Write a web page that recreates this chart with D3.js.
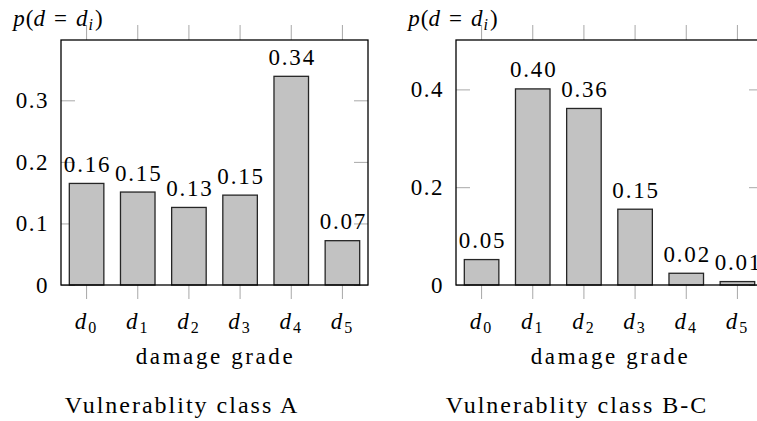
<!DOCTYPE html>
<html>
<head>
<meta charset="utf-8">
<script src="https://cdn.jsdelivr.net/npm/d3@7"></script>
<style>
  html, body { margin: 0; padding: 0; background: #fff; }
</style>
</head>
<body>
<svg id="chart" width="757" height="421"></svg>
<script>
// ---------- data ----------
const categories = ["0", "1", "2", "3", "4", "5"];          // subscripts of d_i
const valuesA  = [0.165, 0.151, 0.126, 0.146, 0.339, 0.072];
const labelsA  = ["0.16", "0.15", "0.13", "0.15", "0.34", "0.07"];
const valuesBC = [0.052, 0.401, 0.361, 0.155, 0.024, 0.007];
const labelsBC = ["0.05", "0.40", "0.36", "0.15", "0.02", "0.01"];
const yTicksA  = [0, 0.1, 0.2, 0.3];
const yTicksBC = [0, 0.2, 0.4];
const yMaxA  = 0.398;
const yMaxBC = 0.501;
const xTitle = "damage grade";
const captionA  = "Vulnerablity class A";
const captionBC = "Vulnerablity class B-C";

// ---------- layout ----------
const svg = d3.select("#chart");
const plotTop = 40, plotBottom = 285, frameW = 307;

// every text is appended straight to the svg root
function addText(x, y, size, anchor, ls) {
  const t = svg.append("text")
    .attr("x", x).attr("y", y)
    .attr("font-size", size)
    .style("font-family", "'Liberation Serif'");
  if (anchor !== "start") t.attr("text-anchor", anchor);
  if (ls) t.style("letter-spacing", ls + "px");
  return t;
}

function cleanAxis(a) {
  a.select(".domain").remove();
  a.selectAll("text").remove();
  a.attr("font-family", null).attr("font-size", null);
}

function panel(x0, values, labels, yTicks, yMax, caption) {
  const g = svg.append("g");
  const x1 = x0 + frameW;
  const x = d3.scaleBand().domain(categories).range([x0, x1])
    .paddingInner(0.325).paddingOuter(0.1625);
  const y = d3.scaleLinear().domain([0, yMax]).range([plotBottom, plotTop]);
  const fmt = d => d === 0 ? "0" : d3.format(".1f")(d);

  g.append("g").attr("transform", `translate(0,${plotTop})`)
    .call(d3.axisTop(x).tickSize(15).tickFormat("")).call(cleanAxis);
  g.append("g").attr("transform", `translate(0,${plotBottom})`)
    .call(d3.axisBottom(x).tickSize(14).tickFormat("")).call(cleanAxis);
  g.append("g").attr("transform", `translate(${x0},0)`)
    .call(d3.axisLeft(y).tickValues(yTicks).tickSize(-14).tickFormat("")).call(cleanAxis);
  g.append("g").attr("transform", `translate(${x1},0)`)
    .call(d3.axisRight(y).tickValues(yTicks).tickSize(-14).tickFormat("")).call(cleanAxis);
  g.selectAll(".tick line").attr("stroke", "#a8a8a8").attr("stroke-width", 1);

  // y tick labels
  yTicks.forEach(v => {
    addText(x0 - 12, y(v) + 8, 23, "end", 1.5).text(fmt(v));
  });

  // bars
  g.selectAll("rect.bar").data(values).join("rect")
    .attr("class", "bar")
    .attr("x", (d, i) => x(categories[i]))
    .attr("width", x.bandwidth())
    .attr("y", d => y(d))
    .attr("height", d => plotBottom - y(d))
    .attr("fill", "#c2c2c2")
    .attr("stroke", "#262626")
    .attr("stroke-width", 1.3);

  // frame
  g.append("rect")
    .attr("x", x0).attr("y", plotTop).attr("width", frameW).attr("height", plotBottom - plotTop)
    .attr("fill", "none").attr("stroke", "#000").attr("stroke-width", 1.3);

  // value labels
  values.forEach((v, i) => {
    addText(x(categories[i]) + x.bandwidth() / 2 + 1, y(v) - 11.5, 23, "middle", 1.8)
      .text(labels[i]);
  });

  // x tick labels d_i
  categories.forEach(c => {
    const t = addText(x(c) + x.bandwidth() / 2 - 1, 329, 23, "middle", 0);
    t.append("tspan").style("font-style", "italic").text("d");
    t.append("tspan").attr("font-size", 16).attr("dy", 4).attr("dx", 2).text(c);
  });

  // x title
  addText((x0 + x1) / 2 + 1, 364, 23, "middle", 2.6).text(xTitle);

  // y label p(d = d_i)
  const yl = addText(x0 - 3, 26, 23, "middle", 0);
  yl.append("tspan").style("font-style", "italic").text("p");
  yl.append("tspan").attr("dx", 1).text("(");
  yl.append("tspan").style("font-style", "italic").text("d");
  yl.append("tspan").attr("dx", 9).text("=");
  yl.append("tspan").attr("dx", 9).style("font-style", "italic").text("d");
  yl.append("tspan").style("font-style", "italic").attr("font-size", 16).attr("dy", 4).attr("dx", 1).text("i");
  yl.append("tspan").attr("dy", -4).attr("dx", 2).text(")");

  // caption
  addText(x0 + 121, 413, 24, "middle", 2).text(caption);
}

panel(61, valuesA, labelsA, yTicksA, yMaxA, captionA);
panel(456, valuesBC, labelsBC, yTicksBC, yMaxBC, captionBC);
</script>
</body>
</html>
